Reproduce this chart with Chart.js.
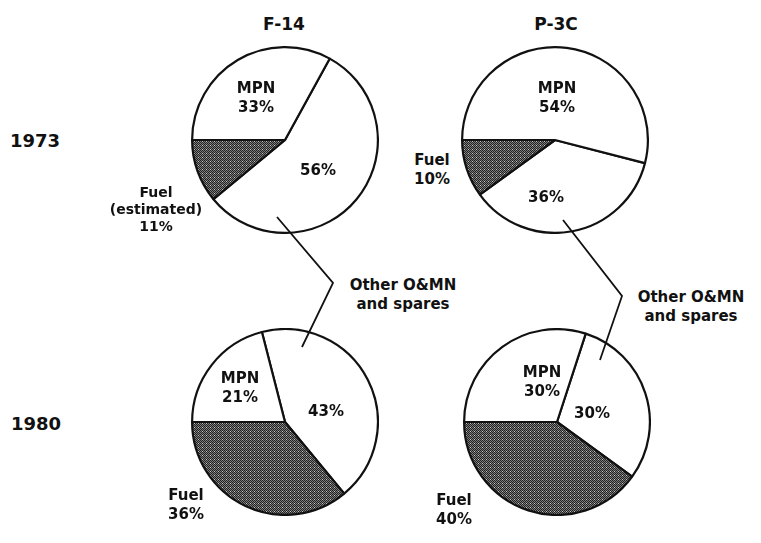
<!DOCTYPE html>
<html>
<head>
<meta charset="utf-8">
<script src="https://cdn.jsdelivr.net/npm/chart.js@4.4.1/dist/chart.umd.min.js"></script>
<style>
  html, body { margin: 0; padding: 0; background: #fff; }
  #wrap { position: relative; width: 761px; height: 543px; overflow: hidden;
          font-family: "DejaVu Sans", sans-serif; font-weight: bold; color: #111; }
  .pie { position: absolute; width: 188px; height: 188px; }
  .lbl { position: absolute; transform: translate(-50%, -50%); text-align: center;
         white-space: nowrap; font-size: 15px; line-height: 19px; }
  .head { font-size: 17px; }
  .year { font-size: 18px; }
  .small { font-size: 14px; line-height: 17px; }
  svg { position: absolute; left: 0; top: 0; z-index: 2; }
</style>
</head>
<body>
<div id="wrap">
  <svg width="761" height="543">
    <polyline points="277,217 333,283 302,347" fill="none" stroke="#111" stroke-width="1.8"/>
    <polyline points="563,220 622,296 600,360" fill="none" stroke="#111" stroke-width="1.8"/>
  </svg>
</div>

<script>
// slice order: clockwise from the MPN edge
const categories = ["Other O&MN and spares", "Fuel", "MPN"];
const aircraft = ["F-14", "P-3C"];
const years = ["1973", "1980"];

const f14_1973 = [56, 11, 33];
const p3c_1973 = [36, 10, 54];
const f14_1980 = [43, 36, 21];
const p3c_1980 = [30, 40, 30];

// layout: pie centres
const pies = [
  { data: f14_1973, cx: 285, cy: 140 },
  { data: p3c_1973, cx: 555, cy: 140 },
  { data: f14_1980, cx: 285, cy: 422 },
  { data: p3c_1980, cx: 557, cy: 422 },
];

// labels (text, x, y, class)
const labels = [
  [aircraft[0], 284, 24, "head"],
  [aircraft[1], 556, 24, "head"],
  [years[0], 35, 140, "year"],
  [years[1], 36, 423, "year"],
  ["MPN<br>" + f14_1973[2] + "%", 256, 98, ""],
  [f14_1973[0] + "%", 318, 170, ""],
  ["Fuel<br>(estimated)<br>" + f14_1973[1] + "%", 156, 209, "small"],
  ["MPN<br>" + p3c_1973[2] + "%", 557, 98, ""],
  [p3c_1973[0] + "%", 546, 197, ""],
  ["Fuel<br>" + p3c_1973[1] + "%", 432, 170, ""],
  ["MPN<br>" + f14_1980[2] + "%", 240, 388, ""],
  [f14_1980[0] + "%", 326, 411, ""],
  ["Fuel<br>" + f14_1980[1] + "%", 186, 505, ""],
  ["MPN<br>" + p3c_1980[2] + "%", 542, 382, ""],
  [p3c_1980[0] + "%", 592, 413, ""],
  ["Fuel<br>" + p3c_1980[1] + "%", 454, 510, ""],
  ["Other O&amp;MN<br>and spares", 403, 295, ""],
  ["Other O&amp;MN<br>and spares", 691, 307, ""],
];

// stippled dark fill for fuel
function fuelPattern() {
  const c = document.createElement("canvas");
  c.width = 4; c.height = 4;
  const g = c.getContext("2d");
  g.fillStyle = "#222";
  g.fillRect(0, 0, 4, 4);
  g.fillStyle = "#7c7c7c";
  g.fillRect(0, 0, 1, 1); g.fillRect(2, 0, 1, 1);
  g.fillRect(1, 1, 1, 1); g.fillRect(3, 1, 1, 1);
  g.fillRect(0, 2, 1, 1); g.fillRect(2, 2, 1, 1);
  g.fillRect(1, 3, 1, 1);
  g.fillStyle = "#c8c8c8";
  g.fillRect(3, 3, 1, 1);
  return g.createPattern(c, "repeat");
}

const wrap = document.getElementById("wrap");
const pattern = fuelPattern();

pies.forEach((p) => {
  const box = document.createElement("div");
  box.className = "pie";
  box.style.left = (p.cx - 94) + "px";
  box.style.top = (p.cy - 94) + "px";
  const canvas = document.createElement("canvas");
  box.appendChild(canvas);
  wrap.appendChild(box);

  const total = p.data.reduce((a, b) => a + b, 0);
  // fuel slice always ends at 9 o'clock
  const rotation = 270 - (p.data[0] + p.data[1]) / total * 360;

  new Chart(canvas.getContext("2d"), {
    type: "pie",
    data: {
      labels: categories,
      datasets: [
        {
          data: p.data,
          backgroundColor: ["#ffffff", pattern, "#ffffff"],
          borderColor: "#111",
          borderWidth: 2.2,
        },
      ],
    },
    options: {
      responsive: true,
      maintainAspectRatio: false,
      animation: false,
      rotation: rotation,
      layout: { padding: 0 },
      plugins: {
        legend: { display: false },
        tooltip: { enabled: false },
      },
    },
  });
});

labels.forEach(([text, x, y, cls]) => {
  const d = document.createElement("div");
  d.className = "lbl " + cls;
  d.style.left = x + "px";
  d.style.top = y + "px";
  d.innerHTML = text;
  wrap.appendChild(d);
});
</script>
</body>
</html>
